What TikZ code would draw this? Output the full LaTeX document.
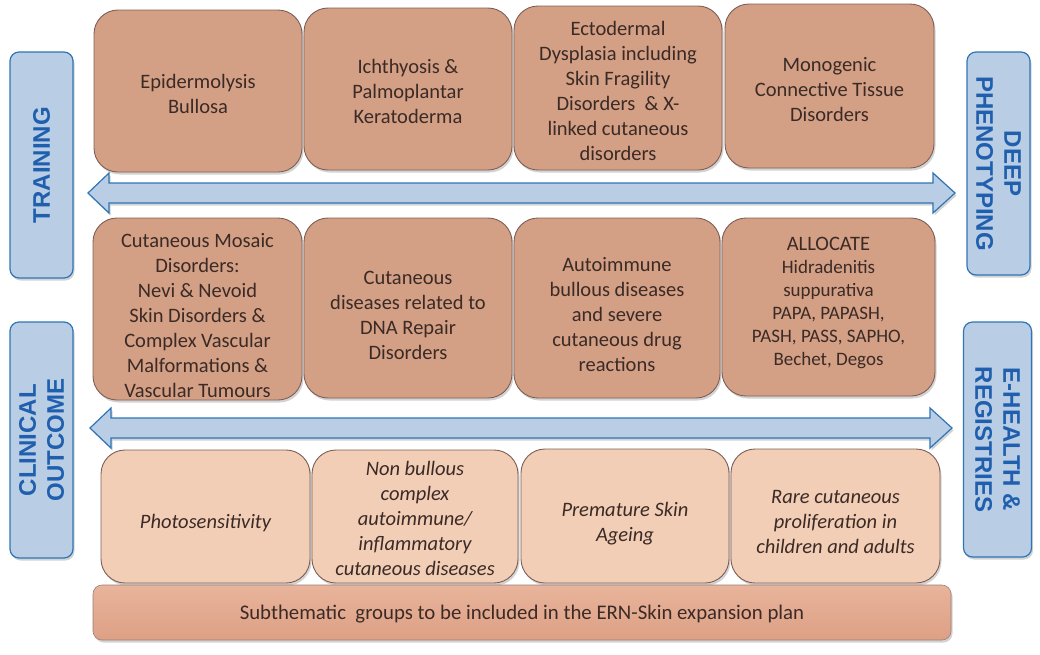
\documentclass[tikz,border=0pt]{standalone}
\usepackage{fontspec}
\setmainfont{Carlito}
\newfontfamily\sidefont{Liberation Sans}
\usetikzlibrary{shadows,calc}
\definecolor{darkbox}{HTML}{D3A085}
\definecolor{lightbox}{HTML}{F2CEB6}
\definecolor{boxedge}{HTML}{7E5F56}
\definecolor{txt}{HTML}{3B2A26}
\definecolor{sidefill}{HTML}{B9CDE5}
\definecolor{sideedge}{HTML}{2E75B6}
\definecolor{sidetxt}{HTML}{1F5FAD}
\definecolor{bartop}{HTML}{E8B49B}
\definecolor{barbot}{HTML}{DDA085}
\newcommand\smallfs{\fontsize{19}{23}\selectfont}
\tikzset{
  shad/.style={drop shadow={opacity=0.35,shadow xshift=1.5pt,shadow yshift=-2.5pt}},
  dbox/.style={draw=boxedge,line width=0.9pt,fill=darkbox,rounded corners=24pt,shad},
  lbox/.style={draw=boxedge,line width=0.9pt,fill=lightbox,rounded corners=24pt,shad},
  btext/.style={text=txt,align=center,inner sep=0pt,font=\fontsize{20.5}{25}\selectfont},
  itext/.style={btext,font=\fontsize{20.5}{25}\selectfont\itshape},
  sidebox/.style={draw=sideedge,line width=1.2pt,fill=sidefill,rounded corners=9pt,shad},
  sidelabel/.style={text=sidetxt,align=center,font=\fontsize{24}{28}\selectfont\sidefont\bfseries},
  dblarrow/.style={draw=sideedge,line width=1.2pt,fill=sidefill,line join=miter,shad},
}
\begin{document}
\begin{tikzpicture}[x=1pt,y=-1pt]
\useasboundingbox (0,0) rectangle (1040,654);
% side boxes
\node[sidebox,minimum width=63pt,minimum height=226pt] (training) at (41.5,165) {};
\node[sidelabel,rotate=90] (trainingt) at (training.center) {TRAINING};
\node[sidebox,minimum width=63pt,minimum height=236pt] (clinical) at (41.5,440) {};
\node[sidelabel,rotate=90] (clinicalt) at (clinical.center) {CLINICAL\\OUTCOME};
\node[sidebox,minimum width=63pt,minimum height=223pt] (deep) at (998.5,163.5) {};
\node[sidelabel,rotate=-90] (deept) at (deep.center) {DEEP\\PHENOTYPING};
\node[sidebox,minimum width=68pt,minimum height=235pt] (ehealth) at (997.5,439.5) {};
\node[sidelabel,rotate=-90] (ehealtht) at (ehealth.center) {E-HEALTH \&\\REGISTRIES};
% row 1
\node[dbox,minimum width=208pt,minimum height=162pt] (a1) at (198,91) {};
\node[btext] (a1t) at ($(a1.center)+(0,3)$) {Epidermolysis\\Bullosa};
\node[dbox,minimum width=208pt,minimum height=162pt] (a2) at (408,89) {};
\node[btext] (a2t) at ($(a2.center)+(0,2.5)$) {Ichthyosis \&\\Palmoplantar\\Keratoderma};
\node[dbox,minimum width=208pt,minimum height=164pt] (a3) at (618,88) {};
\node[btext] (a3t) at ($(a3.center)+(0,3)$) {Ectodermal\\Dysplasia including\\Skin Fragility\\Disorders\ \ \& X-\\linked cutaneous\\disorders};
\node[dbox,minimum width=209pt,minimum height=164pt] (a4) at (829.5,86) {};
\node[btext] (a4t) at ($(a4.center)+(0,4)$) {Monogenic\\Connective Tissue\\Disorders};
% row 2
\node[dbox,minimum width=209pt,minimum height=182pt] (b1) at (197.5,309) {};
\node[btext] (b1t) at ($(b1.center)+(0,7)$) {Cutaneous Mosaic\\Disorders:\\Nevi \& Nevoid\\Skin Disorders \&\\Complex Vascular\\Malformations \&\\Vascular Tumours};
\node[dbox,minimum width=208pt,minimum height=180pt] (b2) at (408,308) {};
\node[btext] (b2t) at ($(b2.center)+(0,7)$) {Cutaneous\\diseases related to\\DNA Repair\\Disorders};
\node[dbox,minimum width=206pt,minimum height=180pt] (b3) at (617,308) {};
\node[btext] (b3t) at ($(b3.center)+(0,7)$) {Autoimmune\\bullous diseases\\and severe\\cutaneous drug\\reactions};
\node[dbox,minimum width=213pt,minimum height=178pt] (b4) at (828.5,307) {};
\node[btext,anchor=north] (b4t) at (828.5,237) {ALLOCATE\\[-2pt]\smallfs Hidradenitis\\[-2pt]\smallfs suppurativa\\[-2pt]\smallfs PAPA, PAPASH,\\[-2pt]\smallfs PASH, PASS, SAPHO,\\[-2pt]\smallfs Bechet, Degos};
% row 3
\node[lbox,minimum width=209pt,minimum height=133pt] (c1) at (205.5,516.5) {};
\node[itext] (c1t) at ($(c1.center)+(0,7)$) {Photosensitivity};
\node[lbox,minimum width=206pt,minimum height=133pt] (c2) at (415,516.5) {};
\node[itext] (c2t) at ($(c2.center)+(0,2)$) {Non bullous\\complex\\autoimmune/\\inflammatory\\cutaneous diseases};
\node[lbox,minimum width=208pt,minimum height=134pt] (c3) at (625,516) {};
\node[itext] (c3t) at ($(c3.center)+(0,8)$) {Premature Skin\\Ageing};
\node[lbox,minimum width=209pt,minimum height=134pt] (c4) at (835.5,516) {};
\node[itext] (c4t) at ($(c4.center)+(0,6)$) {Rare cutaneous\\proliferation in\\children and adults};
% bottom bar
\node[draw=boxedge!80,line width=0.6pt,top color=bartop,bottom color=barbot,rounded corners=9pt,shad,
  minimum width=858pt,minimum height=55pt] (bar) at (522,612.5) {};
\node[btext,font=\fontsize{20.8}{25}\selectfont] (bart) at ($(bar.center)+(0,2)$)
  {Subthematic\ \ groups to be included in the ERN-Skin expansion plan};
% arrows
\coordinate (l1) at (88,193);
\coordinate (r1) at (955,193);
\draw[dblarrow] (l1) -- ++(21,-20) -- ++(0,10) -- ($(r1)+(-22,-10)$) -- ++(0,-10) -- (r1)
  -- ++(-22,20) -- ++(0,-10) -- ($(l1)+(21,10)$) -- ++(0,10) -- cycle;
\coordinate (l2) at (90,428);
\coordinate (r2) at (952,428);
\draw[dblarrow] (l2) -- ++(21,-20) -- ++(0,10) -- ($(r2)+(-22,-10)$) -- ++(0,-10) -- (r2)
  -- ++(-22,20) -- ++(0,-10) -- ($(l2)+(21,10)$) -- ++(0,10) -- cycle;
\end{tikzpicture}
\end{document}
